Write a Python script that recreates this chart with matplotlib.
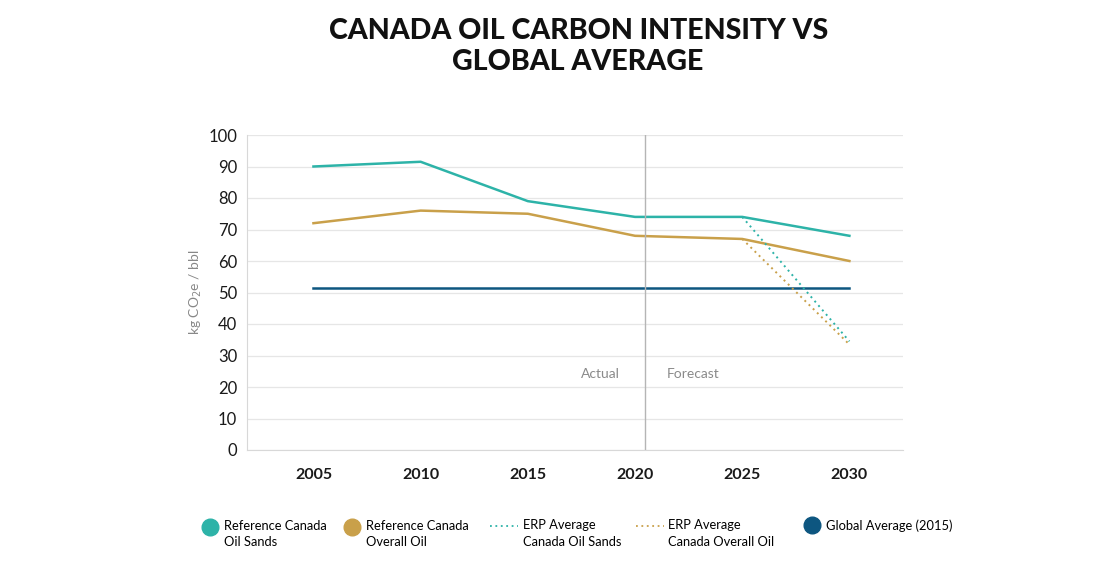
import matplotlib
matplotlib.use("Agg")
import matplotlib.pyplot as plt
from matplotlib.lines import Line2D

plt.rcParams['font.family'] = ['Lato', 'DejaVu Sans']

years = [2005, 2010, 2015, 2020, 2025, 2030]
oil_sands = [90, 91.5, 79, 74, 74, 68]
overall_oil = [72, 76, 75, 68, 67, 60]
global_avg = [51.5, 51.5, 51.5, 51.5, 51.5, 51.5]
erp_years = [2025, 2030]
erp_oil_sands = [74, 34.5]
erp_overall = [67, 33.5]

TEAL = "#2db3a8"
GOLD = "#c9a04a"
NAVY = "#0d5680"
GRID = "#e6e6e6"

fig = plt.figure(figsize=(10.95, 5.72), dpi=100)
ax = fig.add_axes([247/1095, 1-450/572, (903-247)/1095, (450-135)/572])

ax.plot(years, global_avg, color=NAVY, lw=1.8)
ax.plot(years, overall_oil, color=GOLD, lw=1.8)
ax.plot(years, oil_sands, color=TEAL, lw=1.8)
ax.plot(erp_years, erp_overall, color=GOLD, lw=1.4, ls=(0, (1, 2)))
ax.plot(erp_years, erp_oil_sands, color=TEAL, lw=1.4, ls=(0, (1, 2)))

ax.set_xlim(2001.9, 2032.5)
ax.set_ylim(0, 100)
ax.set_yticks(range(0, 101, 10))
ax.set_xticks(years)
ax.grid(axis='y', color=GRID, lw=0.9)
ax.set_axisbelow(True)
for s in ['top', 'right']:
    ax.spines[s].set_visible(False)
ax.spines['left'].set_color('#d8d8d8')
ax.spines['bottom'].set_color('#d8d8d8')
ax.tick_params(length=0, labelsize=11.5, colors='#1a1a1a')
ax.tick_params(axis='y', pad=7, labelsize=12)
ax.tick_params(axis='x', pad=13)
for t in ax.get_xticklabels():
    t.set_fontweight('bold')

ax.set_ylabel(r'kg CO$_2$e / bbl', color='#888888', fontsize=10, labelpad=3)

# actual / forecast divider
ax.axvline(2020.47, color='#b5b5b5', lw=1)
ax.text(2019.3, 24, 'Actual', color='#8a8a8a', fontsize=10, ha='right', va='center')
ax.text(2021.5, 24, 'Forecast', color='#8a8a8a', fontsize=10, ha='left', va='center')

fig.text(0.528, 0.968, 'CANADA OIL CARBON INTENSITY VS\nGLOBAL AVERAGE', ha='center', va='top',
         fontsize=20.5, fontweight='black', linespacing=1.2, color='#111111')

# legend drawn in pixel space
lax = fig.add_axes([0, 0, 1, 1], zorder=-1)
lax.set_xlim(0, 1095)
lax.set_ylim(572, 0)
lax.axis('off')
lfs = 9.3
ls = 1.45
lax.plot([210], [527], 'o', ms=12, color=TEAL)
lax.text(224, 520, 'Reference Canada\nOil Sands', fontsize=lfs, va='top', linespacing=ls)
lax.plot([352], [527], 'o', ms=12, color=GOLD)
lax.text(366, 520, 'Reference Canada\nOverall Oil', fontsize=lfs, va='top', linespacing=ls)
lax.add_line(Line2D([490, 518], [526, 526], color=TEAL, lw=1.3, ls=(0, (1, 2))))
lax.text(523, 519, 'ERP Average\nCanada Oil Sands', fontsize=lfs, va='top', linespacing=ls)
lax.add_line(Line2D([636, 664], [526, 526], color=GOLD, lw=1.3, ls=(0, (1, 2))))
lax.text(668, 519, 'ERP Average\nCanada Overall Oil', fontsize=lfs, va='top', linespacing=ls)
lax.plot([812], [525], 'o', ms=12, color=NAVY)
lax.text(826, 519, 'Global Average (2015)', fontsize=lfs, va='top')

fig.savefig('out.png', dpi=100)
